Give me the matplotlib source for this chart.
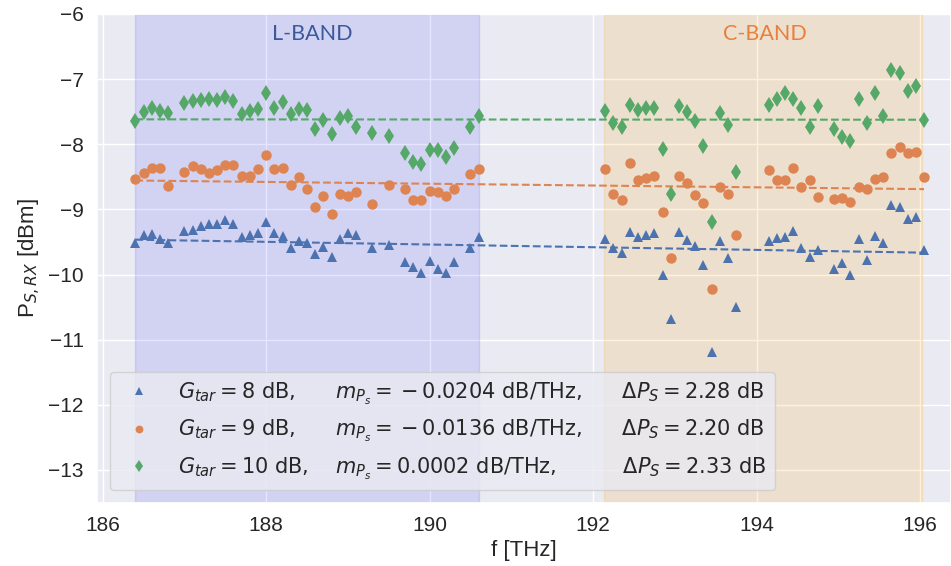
import numpy as np
import matplotlib
matplotlib.use("Agg")
import matplotlib.pyplot as plt
import seaborn as sns

# ---- data ----
f_L = [186.4, 186.5, 186.6, 186.7, 186.8, 187.0, 187.1, 187.2, 187.3, 187.4,
       187.5, 187.6, 187.7, 187.8, 187.9, 188.0, 188.1, 188.2, 188.3, 188.4,
       188.5, 188.6, 188.7, 188.8, 188.9, 189.0, 189.1, 189.3, 189.5, 189.7,
       189.8, 189.9, 190.0, 190.1, 190.2, 190.3, 190.5, 190.6]
f_C = [192.15, 192.25, 192.35, 192.45, 192.55, 192.65, 192.75, 192.85, 192.95,
       193.05, 193.15, 193.25, 193.35, 193.45, 193.55, 193.65, 193.75,
       194.15, 194.25, 194.35, 194.45, 194.55, 194.65, 194.75,
       194.95, 195.05, 195.15, 195.25, 195.35, 195.45, 195.55, 195.65, 195.75,
       195.85, 195.95, 196.05]

p8_L = [-9.52, -9.39, -9.38, -9.46, -9.51, -9.33, -9.31, -9.26, -9.23, -9.22,
        -9.17, -9.23, -9.43, -9.39, -9.36, -9.19, -9.37, -9.41, -9.60, -9.49,
        -9.51, -9.69, -9.57, -9.73, -9.45, -9.37, -9.40, -9.59, -9.55, -9.81,
        -9.88, -9.97, -9.79, -9.91, -9.97, -9.81, -9.60, -9.43]
p9_L = [-8.53, -8.44, -8.37, -8.37, -8.64, -8.42, -8.34, -8.38, -8.44, -8.39,
        -8.32, -8.32, -8.49, -8.48, -8.38, -8.16, -8.38, -8.37, -8.62, -8.51,
        -8.68, -8.96, -8.79, -9.07, -8.77, -8.79, -8.74, -8.91, -8.63, -8.68,
        -8.86, -8.85, -8.71, -8.74, -8.79, -8.69, -8.46, -8.38]
p10_L = [-7.65, -7.51, -7.45, -7.49, -7.52, -7.37, -7.34, -7.32, -7.31, -7.32,
         -7.27, -7.33, -7.54, -7.49, -7.46, -7.21, -7.45, -7.35, -7.53, -7.46,
         -7.47, -7.77, -7.63, -7.85, -7.59, -7.56, -7.73, -7.83, -7.87, -8.14,
         -8.27, -8.31, -8.09, -8.09, -8.19, -8.05, -7.73, -7.56]

p8_C = [-9.46, -9.59, -9.67, -9.35, -9.43, -9.39, -9.37, -10.00, -10.69,
        -9.35, -9.47, -9.56, -9.86, -11.19, -9.49, -9.74, -10.50,
        -9.49, -9.44, -9.43, -9.33, -9.59, -9.73, -9.62,
        -9.91, -9.83, -10.00, -9.46, -9.78, -9.41, -9.51, -8.94, -8.96,
        -9.15, -9.11, -9.63]
p9_C = [-8.38, -8.77, -8.85, -8.28, -8.55, -8.52, -8.49, -9.04, -9.74,
        -8.49, -8.60, -8.78, -8.90, -10.22, -8.66, -8.77, -9.40,
        -8.40, -8.55, -8.55, -8.37, -8.66, -8.55, -8.81,
        -8.84, -8.82, -8.88, -8.65, -8.69, -8.54, -8.50, -8.13, -8.04,
        -8.13, -8.12, -8.51]
p10_C = [-7.49, -7.68, -7.74, -7.39, -7.47, -7.45, -7.45, -8.07, -8.77,
         -7.41, -7.51, -7.65, -8.03, -9.19, -7.52, -7.70, -8.42,
         -7.40, -7.30, -7.22, -7.31, -7.45, -7.73, -7.41,
         -7.77, -7.89, -7.95, -7.30, -7.67, -7.22, -7.56, -6.86, -6.91,
         -7.18, -7.11, -7.62]

labels = [
    r"$G_{tar} = 8$ dB,      $m_{P_s} = {}-0.0204$ dB/THz,      $\Delta P_S = 2.28$ dB",
    r"$G_{tar} = 9$ dB,      $m_{P_s} = {}-0.0136$ dB/THz,      $\Delta P_S = 2.20$ dB",
    r"$G_{tar} = 10$ dB,    $m_{P_s} = 0.0002$ dB/THz,          $\Delta P_S = 2.33$ dB",
]
markers = ["^", "o", "d"]
band_L = (186.39, 190.61)
band_C = (192.14, 196.02)
band_names = ["L-BAND", "C-BAND"]

# ---- style ----
sns.set_theme(style="darkgrid")
plt.rcParams["font.family"] = ["Liberation Sans", "DejaVu Sans"]
plt.rcParams["mathtext.fontset"] = "dejavusans"
pal = sns.color_palette("deep")

fig = plt.figure(figsize=(9.51, 5.66), dpi=100)
ax = fig.add_axes([97 / 951, 63.5 / 566, 854 / 951, 488.5 / 566])

ax.axvspan(*band_L, color="blue", alpha=0.1)
ax.axvspan(*band_C, color="orange", alpha=0.15)

f_all = np.array(f_L + f_C)
series = [np.array(p8_L + p8_C), np.array(p9_L + p9_C), np.array(p10_L + p10_C)]
ms = [7, 7.5, 8]
for i, (p, m, lab) in enumerate(zip(series, markers, labels)):
    ax.plot(f_all, p, linestyle="none", marker=m, color=pal[i], markersize=ms[i],
            markeredgewidth=0, label=lab)
    k, b = np.polyfit(f_all, p, 1)
    xs = np.array([f_all.min(), f_all.max()])
    ax.plot(xs, k * xs + b, linestyle="--", color=pal[i], linewidth=1.5)

ax.text(188.57, -6.31, band_names[0], color="#3a5a9c", fontsize=15.5,
        family="Lato", ha="center", va="center")
ax.text(194.1, -6.31, band_names[1], color="#ea7f3c", fontsize=15.5,
        family="Lato", ha="center", va="center")

ax.set_xlim(185.93, 196.38)
ax.set_ylim(-13.5, -6)
ax.set_xticks([186, 188, 190, 192, 194, 196])
ax.set_yticks([-13, -12, -11, -10, -9, -8, -7, -6])
ax.tick_params(labelsize=15)
ax.set_xlabel("f [THz]", fontsize=16)
ax.set_ylabel(r"P$_{S,RX}$ [dBm]", fontsize=16)

ax.legend(loc="lower left", prop={"family": "DejaVu Sans", "size": 15},
          markerscale=0.75, borderaxespad=0.6, labelspacing=0.55,
          handletextpad=0.9)

fig.savefig("out.png", dpi=100)
